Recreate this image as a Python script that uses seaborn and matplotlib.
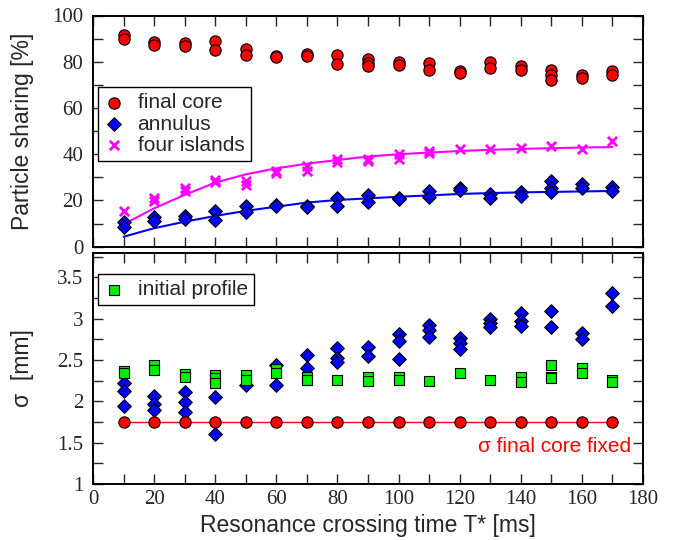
import matplotlib
matplotlib.use("Agg")
import matplotlib.pyplot as plt
import seaborn as sns
import pandas as pd
from matplotlib.ticker import MultipleLocator, FormatStrFormatter

# ---------------- data ----------------
T_fit = [10, 20, 30, 40, 50, 60, 70, 80, 90, 100, 110, 120, 130, 140, 150, 160, 170]

core_x = [10, 10, 20, 20, 30, 30, 40, 40, 50, 50, 60, 60, 70, 70, 80, 80, 90, 90, 90,
          100, 100, 110, 110, 120, 120, 130, 130, 140, 140, 150, 150, 150, 160, 160, 170, 170]
core_y = [91.4, 90.0, 88.4, 87.2, 88.1, 87.0, 88.8, 84.9, 85.6, 82.8, 82.5, 82.2, 83.4, 82.3,
          82.8, 79.0, 81.2, 79.5, 78.3, 80.0, 78.8, 79.5, 76.6, 76.2, 75.2, 79.8, 77.3,
          78.3, 76.6, 76.3, 74.4, 71.9, 74.4, 73.0, 76.2, 74.1]

ann_x = [10, 10, 20, 20, 30, 30, 40, 40, 50, 50, 60, 60, 70, 70, 80, 80, 90, 90, 100, 100,
         110, 110, 120, 120, 130, 130, 140, 140, 150, 150, 150, 160, 160, 170, 170]
ann_y = [10.5, 8.6, 12.7, 11.2, 13.4, 11.9, 15.5, 11.6, 17.4, 14.8, 17.9, 17.5, 17.6, 17.2,
         20.9, 17.7, 22.3, 19.4, 21.2, 20.6, 24.1, 21.3, 25.2, 24.5, 23.0, 20.9, 23.7, 22.0,
         28.4, 25.6, 23.7, 27.0, 25.6, 26.0, 24.1]

isl_x = [10, 20, 20, 30, 30, 40, 40, 50, 50, 60, 60, 70, 70, 80, 80, 90, 90, 100, 100,
         110, 110, 120, 130, 140, 150, 160, 170]
isl_y = [15.5, 20.9, 19.8, 25.6, 24.1, 28.8, 28.0, 28.4, 26.6, 32.8, 31.8, 34.9, 32.8,
         37.8, 36.8, 38.1, 37.1, 40.0, 37.8, 41.4, 40.7, 42.4, 42.4, 42.8, 43.5, 42.1, 45.7]

fit_isl = [9.7, 16.6, 22.4, 27.7, 31.3, 33.9, 35.9, 37.5, 39.0, 40.0, 40.7, 41.4, 41.9,
           42.3, 42.6, 42.9, 43.1]
fit_ann = [4.3, 8.0, 10.8, 13.3, 15.5, 17.3, 19.1, 20.2, 20.9, 21.6, 22.2, 22.8, 23.2,
           23.5, 23.7, 23.9, 24.1]

init_x = [10, 10, 20, 20, 30, 30, 40, 40, 40, 50, 50, 60, 60, 70, 70, 80, 90, 90, 100, 100,
          110, 120, 130, 140, 140, 150, 150, 150, 160, 160, 170, 170]
init_y = [2.37, 2.34, 2.44, 2.38, 2.33, 2.30, 2.32, 2.28, 2.22, 2.32, 2.26, 2.39, 2.34,
          2.29, 2.26, 2.26, 2.30, 2.25, 2.29, 2.26, 2.25, 2.34, 2.26, 2.29, 2.24,
          2.44, 2.30, 2.28, 2.40, 2.34, 2.26, 2.24]

sig_ann_x = [10, 10, 10, 20, 20, 20, 30, 30, 30, 40, 40, 50, 60, 60, 70, 70, 80, 80, 80,
             90, 90, 100, 100, 100, 110, 110, 110, 120, 120, 120, 130, 130, 130,
             140, 140, 140, 150, 150, 160, 160, 170, 170]
sig_ann_y = [2.22, 2.12, 1.95, 2.07, 1.97, 1.89, 2.11, 1.99, 1.87, 2.05, 1.61, 2.20,
             2.44, 2.20, 2.56, 2.40, 2.65, 2.53, 2.48, 2.66, 2.55, 2.81, 2.73, 2.51,
             2.93, 2.86, 2.78, 2.77, 2.71, 2.63, 3.00, 2.95, 2.90, 3.07, 2.97, 2.91,
             3.09, 2.90, 2.83, 2.76, 3.31, 3.16]

sig_core_y = [1.75, 1.75, 1.75, 1.75, 1.75, 1.75, 1.75, 1.75, 1.75, 1.75, 1.75, 1.75,
              1.75, 1.75, 1.75, 1.75, 1.75]

x_ticks = [0, 20, 40, 60, 80, 100, 120, 140, 160, 180]

# ---------------- style ----------------
sns.set_style("ticks")
plt.rcParams["font.family"] = ["Liberation Sans", "DejaVu Sans"]
plt.rcParams["axes.linewidth"] = 1.4

fig = plt.figure(figsize=(6.84, 5.4), dpi=100)
W, H = 684.0, 540.0
ax1 = fig.add_axes([93 / W, 1 - 246.7 / H, 550 / W, 231.2 / H])
ax2 = fig.add_axes([93 / W, 1 - 484 / H, 550 / W, 231.3 / H])

RED, BLUE, MAG, GRN = "#ff0000", "#0000ff", "#ff00ff", "#00ee00"

# ---------------- top panel ----------------
sns.lineplot(x=T_fit, y=fit_isl, ax=ax1, color=MAG, lw=1.5, zorder=2)
sns.lineplot(x=T_fit, y=fit_ann, ax=ax1, color=BLUE, lw=1.5, zorder=2)
sns.scatterplot(x=core_x, y=core_y, ax=ax1, marker="o", s=66, color=RED,
                edgecolor="black", linewidth=0.8, zorder=3)
h_core = ax1.collections[-1]
sns.scatterplot(x=ann_x, y=ann_y, ax=ax1, marker="D", s=48, color=BLUE,
                edgecolor="black", linewidth=0.8, zorder=3)
h_ann = ax1.collections[-1]
sns.scatterplot(x=isl_x, y=isl_y, ax=ax1, marker="x", s=44, color=MAG,
                linewidth=2.0, zorder=3)
h_isl = ax1.collections[-1]

leg1 = ax1.legend([h_core, h_ann, h_isl], ["final core", "annulus", "four islands"],
                  loc="upper left", bbox_to_anchor=(0.009, 0.69), borderaxespad=0,
                  fontsize=15, fancybox=False, framealpha=1, edgecolor="black",
                  handlelength=0.9, handletextpad=0.7, labelspacing=0.1,
                  borderpad=0.3)
leg1.get_frame().set_linewidth(1.0)

ax1.set_xlim(0, 180)
ax1.set_ylim(0, 100)
ax1.set_xticks(x_ticks)
ax1.xaxis.set_minor_locator(MultipleLocator(10))
ax1.yaxis.set_major_locator(MultipleLocator(20))
ax1.yaxis.set_minor_locator(MultipleLocator(10))
ax1.tick_params(labelbottom=False)
ax1.set_ylabel("Particle sharing [%]", fontsize=16.5)

# ---------------- bottom panel ----------------
sns.lineplot(x=T_fit, y=sig_core_y, ax=ax2, color=RED, lw=1.0, zorder=2)
sns.scatterplot(x=sig_ann_x, y=sig_ann_y, ax=ax2, marker="D", s=48, color=BLUE,
                edgecolor="black", linewidth=0.8, zorder=3)
sns.scatterplot(x=init_x, y=init_y, ax=ax2, marker="s", s=50, color=GRN,
                edgecolor="black", linewidth=0.8, zorder=4)
h_init = ax2.collections[-1]
sns.scatterplot(x=T_fit, y=sig_core_y, ax=ax2, marker="o", s=66, color=RED,
                edgecolor="black", linewidth=0.8, zorder=5)

leg2 = ax2.legend([h_init], ["initial profile"], loc="upper left",
                  bbox_to_anchor=(0.009, 0.908), borderaxespad=0, fontsize=15,
                  fancybox=False, framealpha=1, edgecolor="black",
                  handlelength=0.9, handletextpad=0.7, borderpad=0.3)
leg2.get_frame().set_linewidth(1.0)

ax2.text(176, 1.45, "σ final core fixed", color=RED, ha="right", va="center",
         fontsize=15)

ax2.set_xlim(0, 180)
ax2.set_ylim(1, 3.8)
ax2.set_xticks(x_ticks)
ax2.xaxis.set_minor_locator(MultipleLocator(10))
ax2.yaxis.set_major_locator(MultipleLocator(0.5))
ax2.yaxis.set_minor_locator(MultipleLocator(0.25))
ax2.yaxis.set_major_formatter(FormatStrFormatter("%g"))
ax2.set_ylabel("σ  [mm]", fontsize=16.5)
ax2.set_xlabel("Resonance crossing time T* [ms]", fontsize=16.5)

for ax in (ax1, ax2):
    ax.tick_params(which="both", direction="in", top=True, right=True,
                   length=7.5, width=1.0, labelsize=15,
                   labelfontfamily="Liberation Serif")
    ax.tick_params(axis="y", pad=7)
    ax.tick_params(axis="x", pad=4)
    ax.yaxis.set_label_coords(-0.108, 0.5)
    for sp in ax.spines.values():
        sp.set_visible(True)
        sp.set_color("black")

fig.savefig("out.png", dpi=100)
